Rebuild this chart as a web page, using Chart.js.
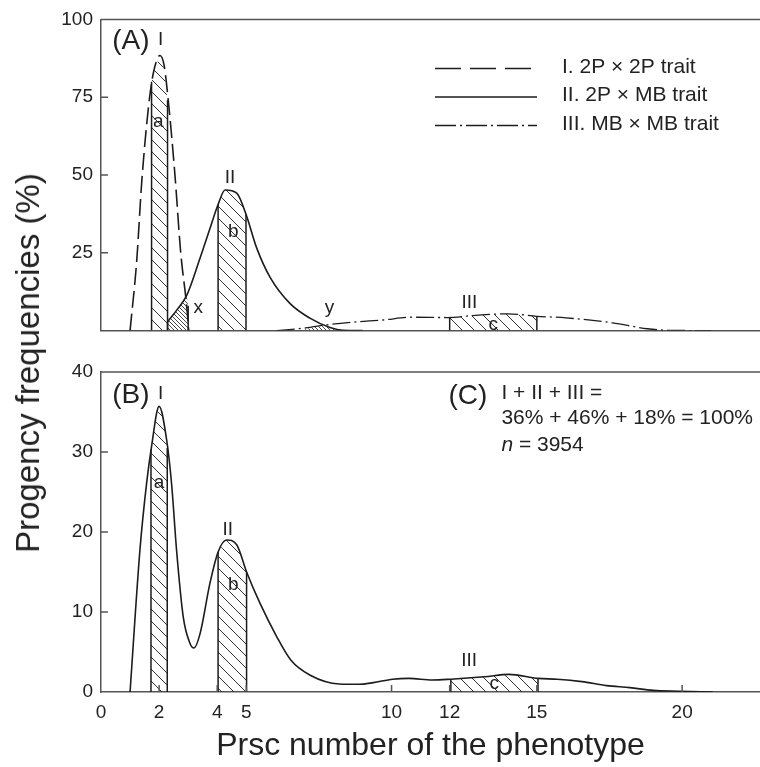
<!DOCTYPE html>
<html>
<head>
<meta charset="utf-8">
<script src="https://cdn.jsdelivr.net/npm/chart.js@4.4.1/dist/chart.umd.min.js"></script>
<style>
html, body { margin: 0; padding: 0; background: #fff; }
#wrap { position: relative; width: 760px; height: 767px; overflow: hidden; font-family: "Liberation Sans", Arial, sans-serif; }
#topBox { position: absolute; left: 0; top: 0; width: 760px; height: 350px; }
#botBox { position: absolute; left: 0; top: 350px; width: 760px; height: 417px; }
#ytitle { position: absolute; left: 28px; top: 363px; transform: translate(-50%, -50%) rotate(-90deg); font-size: 33px; color: #222; white-space: nowrap; }
</style>
</head>
<body>
<div id="wrap">
  <div id="topBox"><canvas id="topChart"></canvas></div>
  <div id="botBox"><canvas id="botChart"></canvas></div>
  <div id="ytitle">Progency frequencies (%)</div>
</div>
<script>
// x axis ticks (Prsc number)
const xTicks = [0, 2, 4, 5, 10, 12, 15, 20];
const seriesNames = ['I. 2P × 2P trait', 'II. 2P × MB trait', 'III. MB × MB trait'];

// panel A - curve I (dashed)
const aIx = [1.0, 1.23, 1.40, 1.63, 1.80, 2.03, 2.17, 2.32, 2.55, 2.74, 2.95, 3.02];
const aIy = [0, 22.5, 47.5, 71.5, 82.7, 88.4, 85.3, 73.5, 49.4, 25.4, 7.8, 0];
// panel A - curve II (solid)
const aIIx = [2.29, 2.6, 2.95, 3.41, 3.75, 4.03, 4.27, 4.67, 4.99, 5.36, 5.82, 6.5, 7.19, 7.88, 8.33, 9.0];
const aIIy = [2.8, 6.5, 11.3, 23.3, 32.8, 40.5, 45.2, 44.2, 37.4, 26.5, 17.1, 8.75, 4, 1, 0.1, 0];
// panel A - curve III (dash-dot)
const aIIIx = [6.05, 7.0, 7.9, 8.8, 9.7, 10.7, 11.9, 13.0, 14.0, 15.0, 16.0, 17.6, 18.8, 19.5, 21.0];
const aIIIy = [0, 0.8, 2.0, 2.8, 3.4, 4.3, 4.2, 5.0, 5.4, 4.6, 4.1, 2.5, 0.6, 0.1, 0];

// panel A - hatched classes a, b, c and overlaps x, y
const aBarAx = [1.74, 1.74, 1.85, 2.0, 2.15, 2.29, 2.29];
const aBarAy = [0, 80, 84.5, 87.5, 85, 74, 0];
const aBarBx = [4.03, 4.03, 4.15, 4.27, 4.5, 4.67, 4.85, 4.99, 4.99];
const aBarBy = [0, 40.5, 43.6, 45.2, 45.3, 44.2, 41.3, 37.4, 0];
const aBarCx = [12, 12, 13, 14, 15, 15];
const aBarCy = [0, 4.2, 5.0, 5.4, 4.6, 0];
const aOverXx = [2.29, 2.29, 2.6, 2.95, 3.0, 3.0];
const aOverXy = [0, 2.8, 6.5, 11.3, 8, 0];
const aOverYx = [6.9, 7.2, 7.6, 7.9, 8.3];
const aOverYy = [0, 0.9, 1.5, 1.0, 0.1];

// panel B - pooled curve
const bx = [1.0, 1.34, 1.57, 1.74, 2.0, 2.26, 2.43, 2.6, 2.83, 3.06, 3.2, 3.41, 3.75, 4.03, 4.32, 4.67, 5.01, 5.47, 6.05, 6.53, 7.2, 8.2, 8.87, 9.37, 10.04, 10.6, 11.4, 12.04, 13.2, 14.04, 15.04, 15.7, 16.55, 17.4, 18.2, 19.0, 19.9, 21.05];
const by = [0, 17.75, 26.1, 30.7, 35.7, 31.5, 26, 17.75, 9.4, 6.1, 5.5, 7.3, 13.6, 17.5, 19, 18.4, 15, 11.1, 6.9, 4.0, 2.1, 1.0, 0.96, 1.17, 1.6, 1.7, 1.5, 1.6, 1.9, 2.2, 1.7, 1.6, 1.3, 0.8, 0.55, 0.2, 0.1, 0];
const bBarAx = [1.72, 1.72, 1.85, 2.0, 2.15, 2.28, 2.28];
const bBarAy = [0, 30.3, 33.8, 35.7, 34.2, 30.5, 0];
const bBarBx = [4.03, 4.03, 4.32, 4.5, 4.67, 4.85, 5.01, 5.01];
const bBarBy = [0, 17.5, 19, 18.9, 18.4, 16.9, 15, 0];
const bBarCx = [12.04, 12.04, 13.2, 14.04, 15.04, 15.04];
const bBarCy = [0, 1.6, 1.9, 2.2, 1.7, 0];

const INK = '#1c1c1c';
const AXIS = '#555';
const FONT = '"Liberation Sans", Arial, sans-serif';
Chart.defaults.font.family = FONT;
Chart.defaults.color = '#222';

function pts(xs, ys) {
    return xs.map((x, i) => ({ x: x, y: ys[i] }));
}

function hatch(step, lw) {
    const c = document.createElement('canvas');
    c.width = step; c.height = step;
    const g = c.getContext('2d');
    g.strokeStyle = '#333';
    g.lineWidth = lw;
    g.beginPath();
    for (let k = -1; k <= 1; k++) {
        g.moveTo(k * step, 0);
        g.lineTo(k * step + step, step);
    }
    g.stroke();
    return g.createPattern(c, 'repeat');
}
const wide = hatch(12, 1);
const fine = hatch(4, 0.9);

function curve(label, xs, ys, dash, width) {
    return {
        label: label, data: pts(xs, ys), borderColor: INK, borderWidth: width || 1.6,
        borderDash: dash, pointRadius: 0, cubicInterpolationMode: 'monotone', fill: false, order: 1, legend: true
    };
}
function area(xs, ys, pattern, edges) {
    return {
        label: '', data: pts(xs, ys), backgroundColor: pattern, borderWidth: edges ? 1.5 : 0,
        pointRadius: 0, tension: 0, fill: 'origin', order: 2, legend: false,
        segment: { borderColor: ctx => (edges && ctx.p0.parsed.x === ctx.p1.parsed.x) ? INK : 'rgba(0,0,0,0)' }
    };
}

// text placed in data units
const notesA = [
    { t: '(A)', x: 1.03, y: 93, size: 28 },
    { t: 'I', x: 2.05, y: 93.5, size: 19 },
    { t: 'a', x: 1.97, y: 67, size: 19 },
    { t: 'II', x: 4.44, y: 49, size: 19 },
    { t: 'b', x: 4.55, y: 31.7, size: 19 },
    { t: 'x', x: 3.35, y: 7.2, size: 19 },
    { t: 'y', x: 7.86, y: 7.2, size: 19 },
    { t: 'III', x: 12.68, y: 8.8, size: 19 },
    { t: 'c', x: 13.5, y: 1.9, size: 19 }
];
const notesB = [
    { t: '(B)', x: 1.03, y: 37.1, size: 28 },
    { t: 'I', x: 2.05, y: 37.3, size: 19 },
    { t: 'a', x: 2.0, y: 26.1, size: 19 },
    { t: 'II', x: 4.36, y: 20.3, size: 19 },
    { t: 'b', x: 4.55, y: 13.4, size: 19 },
    { t: 'III', x: 12.67, y: 3.9, size: 19 },
    { t: 'c', x: 13.53, y: 1.0, size: 19 },
    { t: '(C)', x: 12.63, y: 37.0, size: 28 }
];

const framePlugin = {
    id: 'frame',
    afterDatasetsDraw(chart, args, opts) {
        const ctx = chart.ctx;
        const a = chart.chartArea;
        const xs = chart.scales.x, ys = chart.scales.y;
        ctx.save();
        ctx.strokeStyle = AXIS;
        ctx.lineWidth = 1.5;
        ctx.beginPath();
        ctx.moveTo(a.left, a.top);
        ctx.lineTo(a.right, a.top);
        // inward tick marks
        ys.ticks.forEach(t => {
            if (t.value <= ys.min || t.value >= ys.max) return;
            const p = ys.getPixelForValue(t.value);
            ctx.moveTo(a.left, p);
            ctx.lineTo(a.left + 7, p);
        });
        if (opts.xTicks) {
            xs.ticks.forEach(t => {
                if (t.value <= 0) return;
                const p = xs.getPixelForValue(t.value);
                ctx.moveTo(p, a.bottom);
                ctx.lineTo(p, a.bottom - 7);
            });
        }
        ctx.stroke();

        // text notes
        ctx.fillStyle = '#222';
        ctx.textAlign = 'center';
        ctx.textBaseline = 'middle';
        (opts.notes || []).forEach(n => {
            ctx.font = n.size + 'px ' + FONT;
            ctx.fillText(n.t, xs.getPixelForValue(n.x), ys.getPixelForValue(n.y));
        });

        if (opts.legend) {
            const items = chart.data.datasets.filter(d => d.legend);
            const lx0 = 435, lx1 = 537, tx = 562;
            const rowY = [67, 95.5, 124];
            const legendDash = [[26, 9], [], [21, 4, 2, 4]];
            ctx.textAlign = 'left';
            ctx.font = '21px ' + FONT;
            items.forEach((d, i) => {
                ctx.beginPath();
                ctx.setLineDash(legendDash[i]);
                ctx.strokeStyle = INK;
                ctx.lineWidth = 1.6;
                ctx.moveTo(lx0, rowY[i] + 1.5);
                ctx.lineTo(lx1, rowY[i] + 1.5);
                ctx.stroke();
                ctx.setLineDash([]);
                ctx.fillText(d.label, tx, rowY[i]);
            });
        }

        if (opts.summary) {
            const x0 = xs.getPixelForValue(13.78);
            ctx.textAlign = 'left';
            ctx.font = '21px ' + FONT;
            ctx.fillText('I + II + III =', x0, ys.getPixelForValue(37.3));
            ctx.fillText('36% + 46% + 18% = 100%', x0, ys.getPixelForValue(34.2));
            const yN = ys.getPixelForValue(30.9);
            ctx.font = 'italic 21px ' + FONT;
            ctx.fillText('n', x0, yN);
            const w = ctx.measureText('n').width;
            ctx.font = '21px ' + FONT;
            ctx.fillText(' = 3954', x0 + w, yN);
        }
        ctx.restore();
    }
};

function xScale(showLabels, height) {
    return {
        type: 'linear', min: 0, max: 22.68,
        afterBuildTicks: s => { s.ticks = xTicks.map(v => ({ value: v })); },
        afterFit: s => { s.height = height; },
        grid: { display: false, drawTicks: false },
        border: { display: true, color: AXIS, width: 1.5 },
        ticks: { display: showLabels, padding: 9, font: { size: 19 }, color: '#222' },
        title: {
            display: showLabels, text: 'Prsc number of the phenotype',
            font: { size: 32 }, color: '#222', padding: { top: 0, bottom: 2 }
        }
    };
}
function yScale(max, step, hideZero) {
    return {
        min: 0, max: max,
        afterFit: s => { s.width = 101; },
        grid: { display: false, drawTicks: false },
        border: { display: true, color: AXIS, width: 1.5 },
        ticks: {
            stepSize: step, padding: 8, font: { size: 19 }, color: '#222',
            callback: v => (hideZero && v === 0) ? '' : v
        }
    };
}
const baseOptions = {
    responsive: true, maintainAspectRatio: false, animation: false, devicePixelRatio: 1,
    plugins: { legend: { display: false }, tooltip: { enabled: false } }
};

new Chart(document.getElementById('topChart'), {
    type: 'line',
    data: {
        datasets: [
            curve(seriesNames[0], aIx, aIy, [17, 6]),
            curve(seriesNames[1], aIIx, aIIy, []),
            curve(seriesNames[2], aIIIx, aIIIy, [18, 4, 2, 4], 1.3),
            area(aBarAx, aBarAy, wide, true),
            area(aBarBx, aBarBy, wide, true),
            area(aBarCx, aBarCy, wide, true),
            area(aOverXx, aOverXy, fine, true),
            area(aOverYx, aOverYy, fine, false)
        ]
    },
    options: Object.assign({}, baseOptions, {
        layout: { padding: { top: 18, left: 0, right: 0, bottom: 0 } },
        scales: { x: xScale(false, 12), y: yScale(100, 25, true) },
        plugins: Object.assign({}, baseOptions.plugins, { frame: { notes: notesA, legend: true } })
    }),
    plugins: [framePlugin]
});

new Chart(document.getElementById('botChart'), {
    type: 'line',
    data: {
        datasets: [
            curve('I + II + III', bx, by, []),
            area(bBarAx, bBarAy, wide, true),
            area(bBarBx, bBarBy, wide, true),
            area(bBarCx, bBarCy, wide, true)
        ]
    },
    options: Object.assign({}, baseOptions, {
        layout: { padding: { top: 22, left: 0, right: 0, bottom: 0 } },
        scales: { x: xScale(true, 75), y: yScale(40, 10, false) },
        plugins: Object.assign({}, baseOptions.plugins, { frame: { notes: notesB, xTicks: true, summary: true } })
    }),
    plugins: [framePlugin]
});
</script>
</body>
</html>
